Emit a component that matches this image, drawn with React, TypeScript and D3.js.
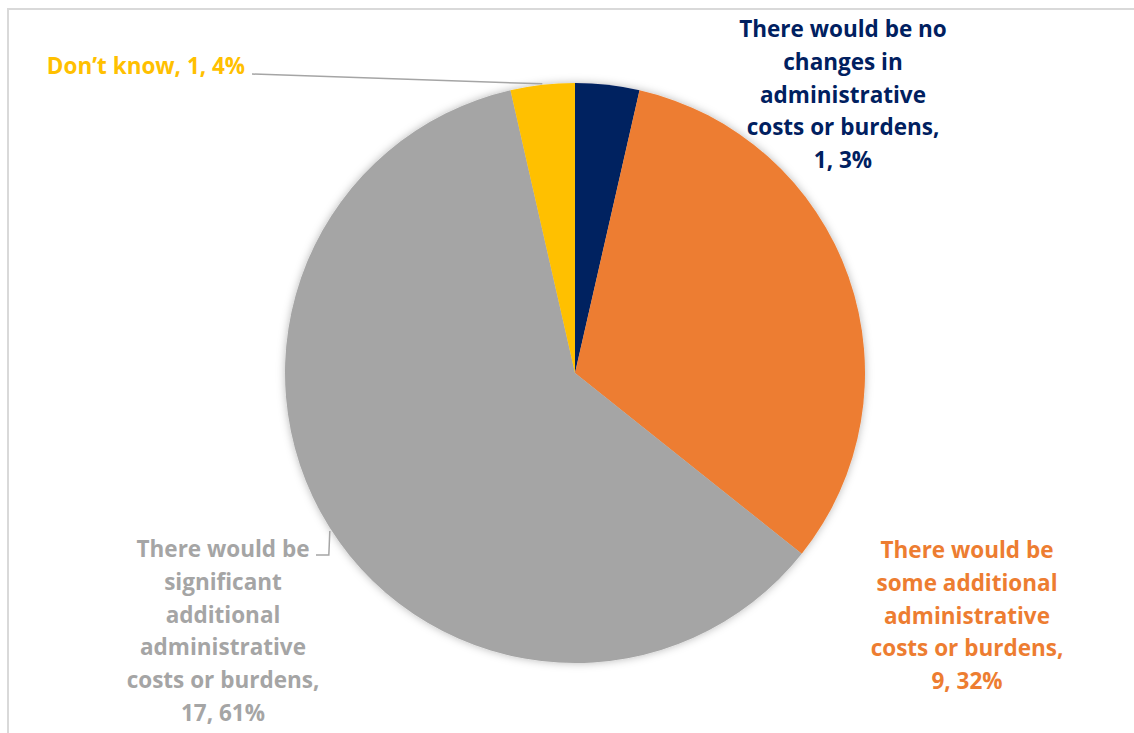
import React from "react";
import * as d3 from "d3";

const categories = [
  "There would be no changes in administrative costs or burdens",
  "There would be some additional administrative costs or burdens",
  "There would be significant additional administrative costs or burdens",
  "Don’t know",
];
const values = [1, 9, 17, 1];
const percentLabels = ["3%", "32%", "61%", "4%"];
const colors = ["#002060", "#ED7D31", "#A5A5A5", "#FFC000"];
const labelLines = [
  ["There would be no", "changes in", "administrative", "costs or burdens,", "1, 3%"],
  ["There would be", "some additional", "administrative", "costs or burdens,", "9, 32%"],
  ["There would be", "significant", "additional", "administrative", "costs or burdens,", "17, 61%"],
  ["Don’t know, 1, 4%"],
];

const W = 1134;
const H = 733;
const cx = 575;
const cy = 373;
const R = 290;

const labelPos = [
  { x: 843, y: 37 },
  { x: 967, y: 558 },
  { x: 223, y: 557 },
  { x: 146, y: 74 },
];
const lineH = 32.8;

export default function App() {
  const pie = d3
    .pie<number>()
    .sort(null)
    .value((d) => d);
  const arcs = pie(values);
  const arc = d3.arc<d3.PieArcDatum<number>>().innerRadius(0).outerRadius(R);

  // leader lines
  const yk = arcs[3];
  const ykMid = (yk.startAngle + yk.endAngle) / 2;
  const ykEdge: [number, number] = [
    cx + Math.sin(ykMid) * (R + 2),
    cy - Math.cos(ykMid) * (R + 2),
  ];
  // grey leader meets the pie edge at y = 531
  const grY = 531;
  const grAngle = 2 * Math.PI - Math.acos((cy - grY) / R);
  const grEdge: [number, number] = [cx + Math.sin(grAngle) * R, cy - Math.cos(grAngle) * R];

  return (
    <svg
      width={W}
      height={H}
      style={{ position: "absolute", left: 0, top: 0, background: "#fff" }}
      fontFamily="'Open Sans', Lato, sans-serif"
      fontWeight="bold"
    >
      <defs>
        <filter id="shadow" x="-20%" y="-20%" width="140%" height="140%">
          <feDropShadow dx="0" dy="0" stdDeviation="4" floodColor="#000" floodOpacity="0.28" />
        </filter>
      </defs>
      <rect x={8} y={9} width={W + 20} height={H + 20} fill="#fff" stroke="#d9d9d9" strokeWidth={2} />
      <g transform={`translate(${cx},${cy})`} filter="url(#shadow)">
        {arcs.map((a, i) => (
          <path key={i} d={arc(a) || ""} fill={colors[i]} />
        ))}
      </g>
      <polyline
        points={`252,74 ${ykEdge[0]},${ykEdge[1] + 1}`}
        fill="none"
        stroke="#A5A5A5"
        strokeWidth={1.5}
      />
      <polyline
        points={`316,555 ${grEdge[0] - 3},555 ${grEdge[0] - 2},${grEdge[1]}`}
        fill="none"
        stroke="#A5A5A5"
        strokeWidth={1.5}
      />
      {labelLines.map((lines, i) => (
        <text key={i} fill={colors[i]} fontSize={22.5} textAnchor="middle">
          {lines.map((l, j) => (
            <tspan key={j} x={labelPos[i].x} y={labelPos[i].y + j * lineH}>
              {l}
            </tspan>
          ))}
        </text>
      ))}
    </svg>
  );
}
